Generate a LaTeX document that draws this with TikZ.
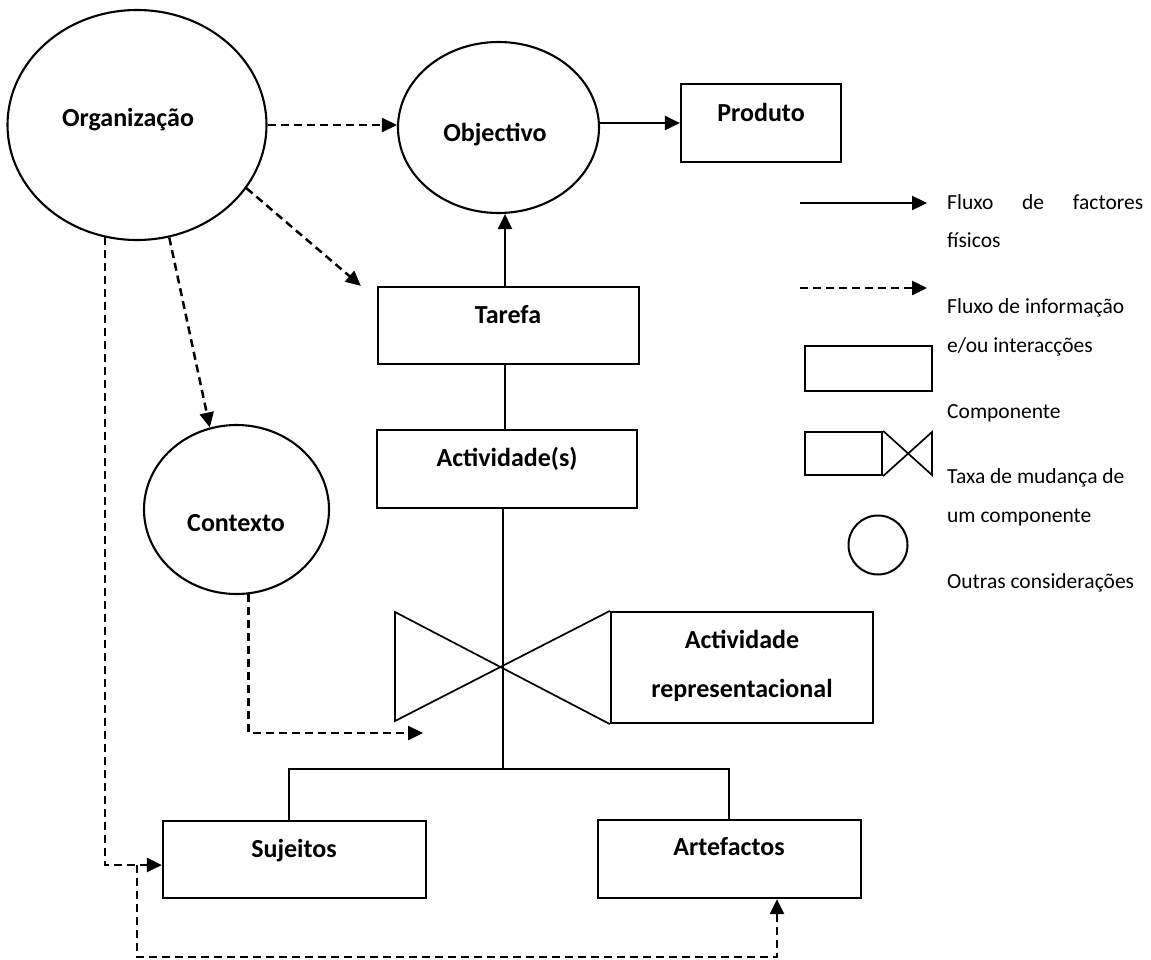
\documentclass[tikz,border=0pt]{standalone}
\usepackage{fontspec}
\setmainfont{Carlito}
\usetikzlibrary{shapes.geometric,arrows.meta,calc}
\begin{document}
\begin{tikzpicture}[x=1pt,y=-1pt,
  box/.style={draw,line width=2.2pt,rectangle,inner sep=0pt,minimum width=#1},
  oval/.style={draw,line width=2.1pt,ellipse,inner sep=0pt},
  lbl/.style={font=\fontsize{26}{30}\selectfont\bfseries,anchor=base,inner sep=0pt},
  leg/.style={font=\fontsize{21.5}{26}\selectfont,anchor=base west,inner sep=0pt},
  tip/.style={-{Triangle[length=15pt,width=14pt]}},
  phys/.style={tip,line width=2.3pt},
  info/.style={line width=2.5pt,dash pattern=on 8pt off 5pt},
  infoa/.style={info,tip},
  plain/.style={line width=1.6pt}]
\useasboundingbox (0,0) rectangle (1151,959);
% ellipses
\node[oval,minimum width=259pt,minimum height=230pt] (org) at (137,125) {};
\node[lbl] (orgl) at (128,126) {Organização};
\node[oval,minimum width=201pt,minimum height=171pt] (obj) at (498.5,127.5) {};
\node[lbl] (objl) at (495,141) {Objectivo};
\node[oval,minimum width=185pt,minimum height=169pt] (ctx) at (236.5,509.5) {};
\node[lbl] (ctxl) at (236,531) {Contexto};
% boxes
\node[box=160pt,minimum height=78pt] (prod) at (761,123) {};
\node[lbl] (prodl) at (761,121) {Produto};
\node[box=261pt,minimum height=77pt] (tar) at (508.5,325.5) {};
\node[lbl] (tarl) at (508,323) {Tarefa};
\node[box=260pt,minimum height=78pt] (act) at (507,469) {};
\node[lbl] (actl) at (507,466) {Actividade(s)};
\node[box=262pt,minimum height=111pt] (ar) at (742,667.5) {};
\node[lbl] (arl1) at (742,648) {Actividade};
\node[lbl] (arl2) at (742,697) {representacional};
\node[box=263pt,minimum height=77pt] (suj) at (294.5,859.5) {};
\node[lbl] (sujl) at (294,857) {Sujeitos};
\node[box=263pt,minimum height=78pt] (art) at (729.5,859) {};
\node[lbl] (artl) at (729,855) {Artefactos};
% bowtie
\coordinate (btl1) at (395,612);
\coordinate (btl2) at (395,721);
\coordinate (btc) at (503,667);
\draw[line width=1.7pt,line join=miter] (ar.south west) -- (btl1) -- (btl2) -- (ar.north west);
% solid flows
\draw[phys] (prod.west -| obj.east) -- (prod.west);
\draw[phys] ([xshift=-3.5pt]tar.north) -- ([xshift=-3.5pt]tar.north |- obj.south);
% plain connections
\draw[plain] ([xshift=-3.5pt]tar.south) -- ([xshift=-3.5pt]tar.south |- act.north);
\coordinate (bar) at (503,769);
\draw[plain] (act.south -| bar) -- (bar);
\draw[plain] (suj.north -| 289,0) |- (bar) -| (art.north -| 729,0);
% information flows
\draw[infoa] (org.east) -- (org.east -| obj.west);
\draw[infoa] (org.-30) -- ($(tar.north west)+(-16,0)$);
\draw[infoa] (org.-74.7) -- (ctx.108);
\coordinate (sujin) at ($(suj.west)+(0,5.5)$);
\draw[infoa] (org.-106.6) |- (sujin);
\coordinate (ctxin) at (423,733);
\draw[infoa] (ctx.-82.2) |- (ctxin);
\coordinate (loopstart) at (137,865);
\coordinate (lowleft) at (137,957);
\coordinate (artin) at ($(art.south)+(47.5,0)$);
\draw[infoa] (loopstart) -- (lowleft) -| (artin);
% legend
\coordinate (l1a) at (800,203); \coordinate (l1b) at (927,203);
\draw[phys] (l1a) -- (l1b);
\node[leg] (t1) at (947,209) {\makebox[196pt][s]{Fluxo de factores}};
\node[leg] (t2) at (947,247) {físicos};
\coordinate (l2a) at (800,288); \coordinate (l2b) at (927,288);
\draw[infoa] (l2a) -- (l2b);
\node[leg] (t3) at (947,313) {Fluxo de informação};
\node[leg] (t4) at (947,352) {e/ou interacções};
\node[box=127pt,minimum height=45pt] (lrect) at (868.5,368.5) {};
\node[leg] (t5) at (947,418) {Componente};
\node[box=77pt,minimum height=43pt] (lrect2) at (843.5,453.5) {};
\coordinate (lbt1) at (932,432); \coordinate (lbt2) at (932,475);
\draw[line width=1.7pt,line join=miter] (lrect2.south east) -- (lbt1) -- (lbt2) -- (lrect2.north east);
\node[leg] (t6) at (947,483) {Taxa de mudança de};
\node[leg] (t7) at (947,522) {um componente};
\node[draw,line width=2pt,circle,inner sep=0pt,minimum size=59pt] (lcirc) at (878,545) {};
\node[leg] (t8) at (947,588) {Outras considerações};
\end{tikzpicture}
\end{document}
